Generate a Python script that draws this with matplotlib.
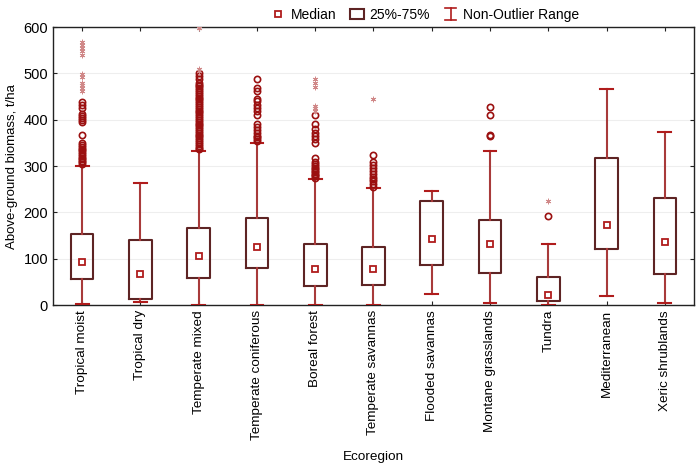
import numpy as np
import matplotlib
matplotlib.use("Agg")
from matplotlib import pyplot as plt
from matplotlib.lines import Line2D
from matplotlib.patches import Rectangle
from matplotlib.legend_handler import HandlerBase

plt.rcParams['font.family'] = ['Liberation Sans', 'DejaVu Sans']

regions = ['Tropical moist', 'Tropical dry', 'Temperate mixed', 'Temperate coniferous',
           'Boreal forest', 'Temperate savannas', 'Flooded savannas', 'Montane grasslands',
           'Tundra', 'Mediterranean', 'Xeric shrublands']
median = [93, 67, 105, 125, 79, 79, 142, 131, 22, 173, 136]
q1 = [57, 14, 59, 80, 42, 43, 87, 70, 8, 121, 67]
q3 = [153, 140, 167, 188, 132, 126, 225, 184, 60, 317, 231]
wlo = [2, 6, 0, 0, 0, 0, 25, 4, 0, 19, 4]
whi = [301, 264, 333, 350, 273, 253, 246, 333, 131, 466, 374]

outliers = [
    [305, 308, 312, 315, 318, 322, 326, 330, 334, 338, 342, 346, 350, 368, 396, 400,
     404, 408, 412, 425, 432, 438],
    [],
    [336, 340, 344, 348, 352, 356, 360, 364, 368, 372, 376, 380, 384, 388, 392, 396,
     400, 404, 408, 412, 416, 420, 424, 428, 432, 436, 440, 444, 448, 452, 456, 460,
     464, 468, 472, 476, 480, 488, 494, 500],
    [355, 358, 362, 366, 372, 378, 385, 390, 410, 418, 425, 432, 440, 445, 462, 468, 488],
    [275, 278, 281, 284, 287, 290, 293, 296, 300, 305, 310, 318, 350, 358, 365, 372,
     380, 390, 410],
    [256, 262, 268, 272, 276, 282, 290, 296, 302, 308, 325],
    [],
    [366, 368, 410, 427],
    [193],
    [],
    [],
]
extremes = [
    [462, 468, 475, 480, 492, 498, 540, 548, 555, 562, 568],
    [],
    [505, 510, 598],
    [],
    [420, 425, 430, 471, 480, 487],
    [445],
    [],
    [],
    [225],
    [],
    [],
]

box_col = '#5e2424'
whisk_col = '#a83a3a'
med_col = '#b01c1c'
out_col = '#9b1010'
ext_col = '#d08888'


class WhiskerHandler(HandlerBase):
    def create_artists(self, legend, orig, xd, yd, w, h, fs, trans):
        cx = xd + w / 2
        lines = [Line2D([cx, cx], [yd - 1, yd + h + 1]),
                 Line2D([cx - 4, cx + 4], [yd - 1, yd - 1]),
                 Line2D([cx - 4, cx + 4], [yd + h + 1, yd + h + 1])]
        for ln in lines:
            ln.set_color(med_col)
            ln.set_linewidth(1.2)
            ln.set_transform(trans)
        return lines


stats = []
for i in range(len(regions)):
    stats.append(dict(med=median[i], q1=q1[i], q3=q3[i], whislo=wlo[i], whishi=whi[i],
                      fliers=outliers[i], label=regions[i]))

fig = plt.figure(figsize=(6.97, 4.68), dpi=100)
ax = fig.add_axes([0.076, 0.348, 0.9197, 0.594])
pos = np.arange(len(regions))

ax.bxp(stats, positions=pos, widths=0.39, showfliers=True,
       boxprops=dict(color=box_col, linewidth=1.5),
       whiskerprops=dict(color=whisk_col, linewidth=1.5),
       capprops=dict(color=med_col, linewidth=1.5),
       medianprops=dict(linewidth=0),
       flierprops=dict(marker='o', markerfacecolor='none', markeredgecolor=out_col,
                       markersize=4.5, markeredgewidth=1.2),
       capwidths=0.22, zorder=3)
ax.plot(pos, median, ls='none', marker='s', markersize=5, markerfacecolor='white',
        markeredgecolor=med_col, markeredgewidth=1.3, zorder=4)
for i, ex in enumerate(extremes):
    if ex:
        ax.plot([pos[i]] * len(ex), ex, ls='none', marker=(6, 2, 0), markersize=4,
                color=ext_col, markeredgewidth=0.6, zorder=3)

ax.set_xlim(-0.5, len(regions) - 0.5)
ax.set_ylim(0, 600)
ax.set_yticks(range(0, 601, 100))
ax.set_xticks(pos)
ax.set_xticklabels(regions, rotation=90, fontsize=9.7)
ax.tick_params(axis='y', labelsize=10.5)
ax.tick_params(direction='in', top=True, right=True, length=3, color='#222222')
ax.yaxis.grid(True, color='#eeeeee', linewidth=0.8)
ax.set_axisbelow(True)
for s in ax.spines.values():
    s.set_linewidth(1.0)
    s.set_color('#222222')
ax.set_ylabel('Above-ground biomass, t/ha', fontsize=9.5, labelpad=4)
ax.set_xlabel('Ecoregion', fontsize=9.7, labelpad=8)

whisker_handle = Line2D([], [])
handles = [
    Line2D([], [], ls='none', marker='s', markersize=5, markerfacecolor='white',
           markeredgecolor=med_col, markeredgewidth=1.3),
    Rectangle((0, 0), 1, 1, facecolor='white', edgecolor=box_col, linewidth=1.5),
    whisker_handle,
]
fig.legend(handles, ['Median', '25%-75%', 'Non-Outlier Range'], loc='upper center',
           bbox_to_anchor=(0.61, 1.01), ncol=3, frameon=False, fontsize=10,
           handlelength=1.0, handletextpad=0.4, columnspacing=1.0,
           handler_map={whisker_handle: WhiskerHandler()})

fig.savefig('out.png', dpi=100)
